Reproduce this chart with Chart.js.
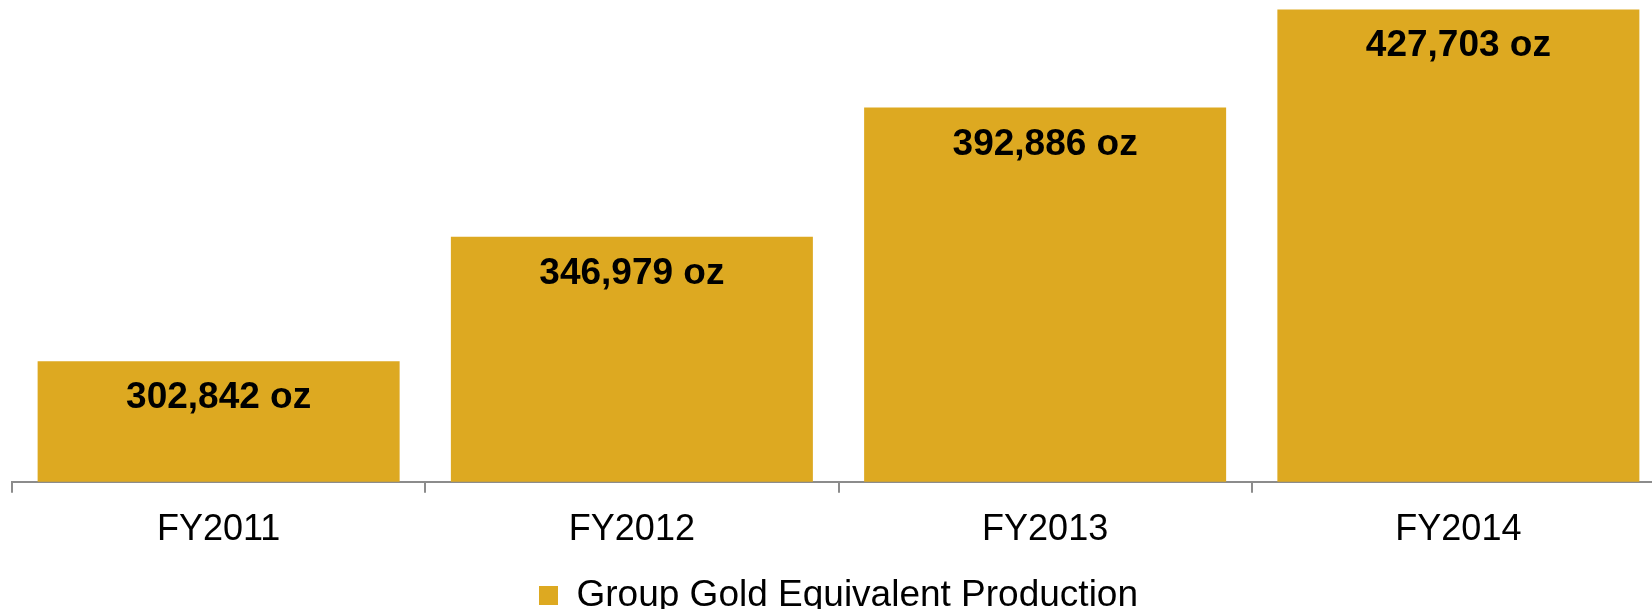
<!DOCTYPE html>
<html>
<head>
<meta charset="utf-8">
<script src="https://cdn.jsdelivr.net/npm/chart.js@4/dist/chart.umd.min.js"></script>
<style>
  body { margin: 0; background: #fff; overflow: hidden; }
  #wrap { width: 1652px; height: 609px; overflow: hidden; position: relative; }
</style>
</head>
<body>
<div id="wrap"><canvas id="gold" width="1680" height="624"></canvas></div>
<script>
var years = ["FY2011", "FY2012", "FY2013", "FY2014"];
var production = [302842, 346979, 392886, 427703];
var seriesName = "Group Gold Equivalent Production";
var unit = " oz";

var FONT = '"Liberation Sans", Arial, sans-serif';
var GOLD = "#DDA921";
var AXIS = "#8c8c8c";

// value labels drawn inside the top of each bar
var barLabels = {
  id: "barLabels",
  afterDatasetsDraw: function(chart) {
    var ctx = chart.ctx;
    var meta = chart.getDatasetMeta(0);
    ctx.save();
    ctx.font = "bold 37px " + FONT;
    ctx.fillStyle = "#000";
    ctx.textAlign = "center";
    ctx.textBaseline = "alphabetic";
    meta.data.forEach(function(bar, i) {
      var v = chart.data.datasets[0].data[i];
      ctx.fillText(v.toLocaleString("en-US") + unit, bar.x, bar.y + 47);
    });
    ctx.restore();
  }
};

var goldChart = new Chart(document.getElementById("gold").getContext("2d"), {
  type: "bar",
  data: {
    labels: years,
    datasets: [{
      label: seriesName,
      data: production,
      backgroundColor: GOLD,
      borderWidth: 0,
      categoryPercentage: 1,
      barPercentage: 0.876
    }]
  },
  options: {
    responsive: false,
    animation: false,
    layout: { padding: { left: 12, right: 15, top: 3, bottom: 0 } },
    plugins: {
      tooltip: { enabled: false },
      legend: {
        position: "bottom",
        labels: {
          boxWidth: 19,
          boxHeight: 19,
          padding: 9,
          color: "#000",
          font: { family: FONT, size: 37 }
        }
      }
    },
    scales: {
      x: {
        grid: { display: true, drawOnChartArea: false, color: AXIS, lineWidth: 2, tickLength: 11 },
        border: { display: true, color: AXIS, width: 2 },
        ticks: { color: "#000", padding: 16, font: { family: FONT, size: 36 } }
      },
      y: {
        display: false,
        min: 260000,
        max: 430000
      }
    }
  },
  plugins: [barLabels]
});
</script>
</body>
</html>
